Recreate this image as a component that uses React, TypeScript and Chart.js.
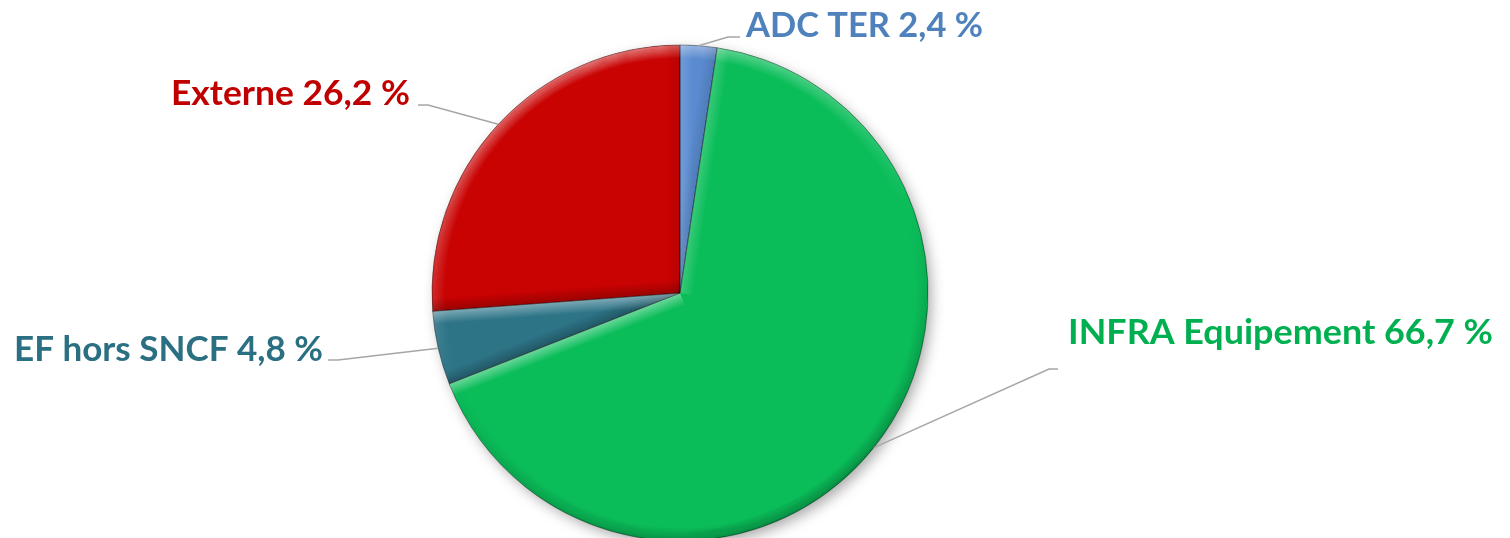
import React, { useEffect, useRef } from "react";
import { Chart, registerables } from "chart.js";

Chart.register(...registerables);

// ---- data ----
const categories = ["ADC TER", "INFRA Equipement", "EF hors SNCF", "Externe"];
const values = [2.4, 66.7, 4.8, 26.2];

// ---- styles ----
const sliceColors = ["#5A8BD0", "#0ABD59", "#2D7487", "#C90202"];
const labelColors = ["#4F81BD", "#00B050", "#2B6F82", "#C00000"];

// label layout (page pixels): elbow point, line end, text anchor, alignment, target text width
const labelLayout = [
  { elbow: [728, 37], end: [740, 37], x: 746, y: 37, align: "left", width: 237 },
  { elbow: [1049, 369], end: [1058, 369], x: 1068, y: 344, align: "left", width: 425 },
  { elbow: [338, 360], end: [328, 360], x: 323, y: 361, align: "right", width: 309 },
  { elbow: [428, 105], end: [418, 105], x: 410, y: 105, align: "right", width: 239 },
];

const fmt = (v: number) => v.toFixed(1).replace(".", ",") + " %";

const LIGHT = (() => {
  const lx = -0.35, ly = -0.94;
  const n = Math.hypot(lx, ly);
  return [lx / n, ly / n];
})();

function shade(nx: number, ny: number, f: number) {
  const d = nx * LIGHT[0] + ny * LIGHT[1];
  if (d >= 0) return `rgba(255,255,255,${(0.4 * d * f).toFixed(3)})`;
  return `rgba(0,0,0,${(0.25 * -d * f).toFixed(3)})`;
}

function slicePath(ctx: any, x: number, y: number, r: number, a0: number, a1: number) {
  ctx.beginPath();
  ctx.moveTo(x, y);
  ctx.arc(x, y, r, a0, a1);
  ctx.closePath();
}

const decorPlugin = {
  id: "pieDecor",
  beforeDatasetsDraw(chart: any) {
    const ctx = chart.ctx;
    const arc = chart.getDatasetMeta(0).data[0];
    const { x, y, outerRadius } = arc.getProps(["x", "y", "outerRadius"], true);
    ctx.save();
    ctx.shadowColor = "rgba(0,0,0,0.35)";
    ctx.shadowBlur = 14;
    ctx.shadowOffsetX = 4;
    ctx.shadowOffsetY = 5;
    ctx.beginPath();
    ctx.arc(x, y, outerRadius - 1, 0, Math.PI * 2);
    ctx.fillStyle = "#ffffff";
    ctx.fill();
    ctx.restore();
  },
  afterDatasetsDraw(chart: any) {
    const ctx = chart.ctx;
    const meta = chart.getDatasetMeta(0);
    const bevel = 13;
    meta.data.forEach((arc: any) => {
      const { x, y, startAngle, endAngle, outerRadius } = arc.getProps(
        ["x", "y", "startAngle", "endAngle", "outerRadius"],
        true
      );
      ctx.save();
      slicePath(ctx, x, y, outerRadius, startAngle, endAngle);
      ctx.clip();
      // outer rim: concentric rings with angle-dependent shading
      for (let k = 0; k < bevel; k++) {
        const f = 1 - k / bevel;
        const g = ctx.createConicGradient(0, x, y);
        const N = 48;
        for (let s = 0; s <= N; s++) {
          const t = s / N;
          const th = t * Math.PI * 2;
          g.addColorStop(t, shade(Math.cos(th), Math.sin(th), f));
        }
        ctx.beginPath();
        ctx.arc(x, y, outerRadius - k - 0.5, startAngle, endAngle);
        ctx.strokeStyle = g;
        ctx.lineWidth = 1.1;
        ctx.stroke();
      }
      // radial edge bands
      const edges = [
        [startAngle, startAngle - Math.PI / 2],
        [endAngle, endAngle + Math.PI / 2],
      ];
      edges.forEach(([ang, nAng]) => {
        const nx = Math.cos(nAng), ny = Math.sin(nAng);
        const ex = x + Math.cos(ang) * outerRadius;
        const ey = y + Math.sin(ang) * outerRadius;
        const mx = (x + ex) / 2, my = (y + ey) / 2;
        const g = ctx.createLinearGradient(mx, my, mx - nx * bevel, my - ny * bevel);
        g.addColorStop(0, shade(nx, ny, 1));
        g.addColorStop(1, shade(nx, ny, 0));
        ctx.beginPath();
        ctx.moveTo(x + nx * 2, y + ny * 2);
        ctx.lineTo(ex + nx * 2, ey + ny * 2);
        ctx.lineTo(ex - nx * bevel, ey - ny * bevel);
        ctx.lineTo(x - nx * bevel, y - ny * bevel);
        ctx.closePath();
        ctx.fillStyle = g;
        ctx.fill();
      });
      ctx.restore();
      // thin outline
      ctx.save();
      slicePath(ctx, x, y, outerRadius, startAngle, endAngle);
      ctx.strokeStyle = "rgba(0,0,0,0.22)";
      ctx.lineWidth = 1;
      ctx.stroke();
      ctx.restore();
    });

    // labels with leader lines
    meta.data.forEach((arc: any, i: number) => {
      const { x, y, startAngle, endAngle, outerRadius } = arc.getProps(
        ["x", "y", "startAngle", "endAngle", "outerRadius"],
        true
      );
      const mid = (startAngle + endAngle) / 2;
      const L = labelLayout[i];
      const px = x + Math.cos(mid) * outerRadius;
      const py = y + Math.sin(mid) * outerRadius;
      ctx.save();
      ctx.strokeStyle = "#A6A6A6";
      ctx.lineWidth = 1.5;
      ctx.beginPath();
      ctx.moveTo(px, py);
      ctx.lineTo(L.elbow[0], L.elbow[1]);
      ctx.lineTo(L.end[0], L.end[1]);
      ctx.stroke();

      const text = `${categories[i]} ${fmt(values[i])}`;
      ctx.font = "bold 34px Lato";
      ctx.fillStyle = labelColors[i];
      ctx.textBaseline = "alphabetic";
      ctx.textAlign = L.align as CanvasTextAlign;
      const w = ctx.measureText(text).width;
      const sx = L.width / w;
      ctx.translate(L.x, L.y);
      ctx.scale(sx, 1);
      ctx.fillText(text, 0, 0);
      ctx.restore();
    });
  },
};

export default function App() {
  const ref = useRef<HTMLCanvasElement | null>(null);
  useEffect(() => {
    if (!ref.current) return;
    const chart = new Chart(ref.current, {
      type: "pie",
      data: {
        labels: categories,
        datasets: [
          {
            data: values,
            backgroundColor: sliceColors,
            borderColor: "rgba(0,0,0,0.2)",
            borderWidth: 1,
          },
        ],
      },
      options: {
        responsive: false,
        animation: false,
        layout: { padding: { left: 431.5, right: 581.5, top: 44.5, bottom: 18.5 } },
        plugins: {
          legend: { display: false },
          tooltip: { enabled: false },
        },
      },
      plugins: [decorPlugin],
    });
    return () => chart.destroy();
  }, []);
  return (
    <div style={{ position: "absolute", left: 0, top: 0, width: 1510, height: 538, overflow: "hidden", background: "#fff" }}>
      <canvas ref={ref} width={1510} height={560} style={{ display: "block", width: 1510, height: 560 }} />
    </div>
  );
}
